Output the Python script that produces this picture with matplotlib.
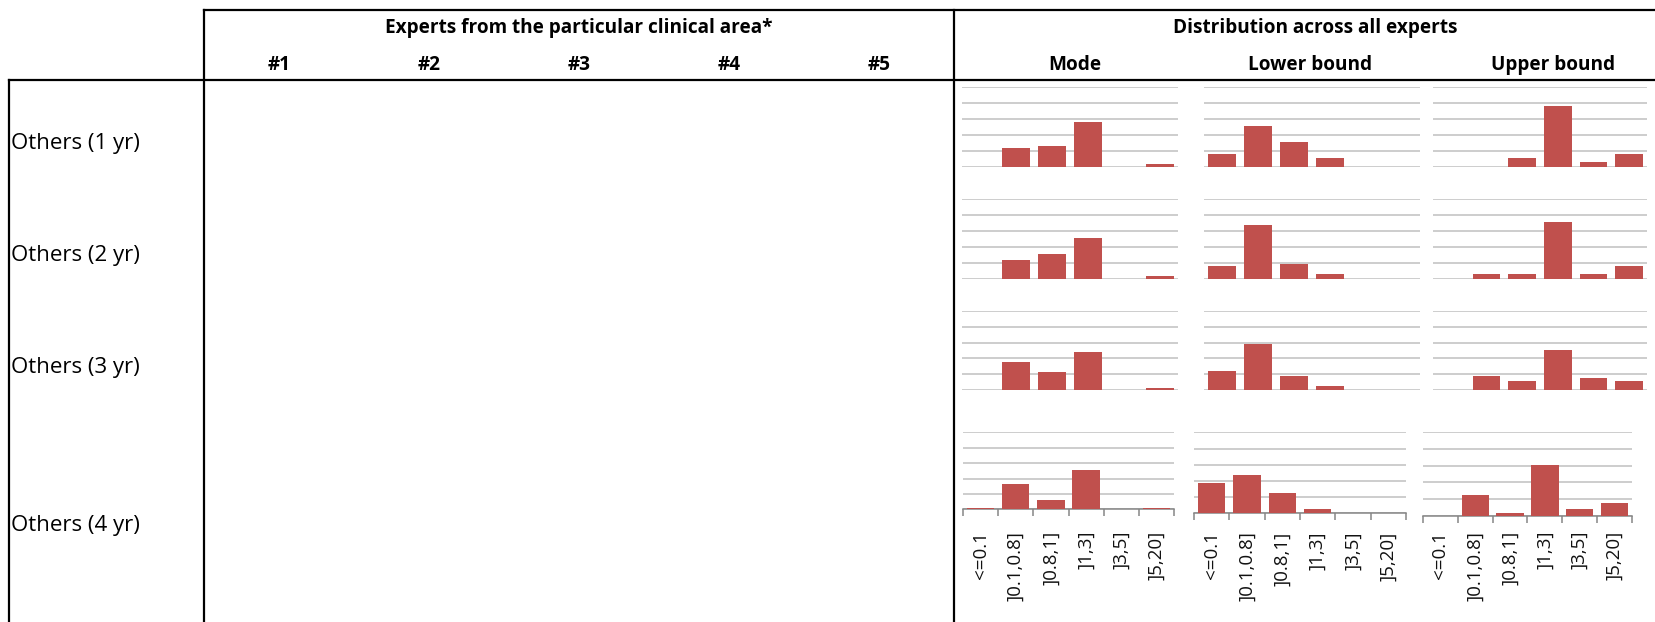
import matplotlib
matplotlib.use('Agg')
import matplotlib.pyplot as plt
from matplotlib.lines import Line2D
from matplotlib.ticker import FixedLocator

# ---------------- data ----------------
categories = ['<=0.1', ']0.1,0.8]', ']0.8,1]', ']1,3]', ']3,5]', ']5,20]']
row_labels = ['Others (1 yr)', 'Others (2 yr)', 'Others (3 yr)', 'Others (4 yr)']
expert_cols = ['#1', '#2', '#3', '#4', '#5']
dist_cols = ['Mode', 'Lower bound', 'Upper bound']
left_header = 'Experts from the particular clinical area*'
right_header = 'Distribution across all experts'

mode_vals = [
    [0.000, 0.117, 0.130, 0.280, 0.000, 0.020],
    [0.000, 0.117, 0.155, 0.255, 0.000, 0.017],
    [0.000, 0.180, 0.117, 0.240, 0.000, 0.017],
    [0.011, 0.167, 0.063, 0.258, 0.000, 0.011],
]
lower_vals = [
    [0.080, 0.255, 0.155, 0.055, 0.000, 0.000],
    [0.080, 0.340, 0.090, 0.030, 0.000, 0.000],
    [0.120, 0.290, 0.090, 0.030, 0.000, 0.000],
    [0.185, 0.235, 0.125, 0.027, 0.000, 0.000],
]
upper_vals = [
    [0.000, 0.000, 0.055, 0.380, 0.030, 0.080],
    [0.000, 0.030, 0.030, 0.355, 0.030, 0.080],
    [0.000, 0.090, 0.058, 0.255, 0.080, 0.058],
    [0.000, 0.122, 0.016, 0.304, 0.040, 0.076],
]
grid_ticks = [0.0, 0.1, 0.2, 0.3, 0.4, 0.5]

# ---------------- layout ----------------
W, H = 1656, 622
fig = plt.figure(figsize=(W / 100, H / 100), dpi=100)
FONT = ['Open Sans', 'DejaVu Sans']
plt.rcParams['font.family'] = FONT

def fx(px):
    return px / W

def fy(py):
    return 1 - py / H

BAR = '#c0504d'
GRID = '#c0c0c0'
AX = '#868686'

# panel geometry: (x0, x1, ytop, ybase) in pixels
row_y = [(87, 167), (199, 278.7), (310.7, 390.3)]
col_x = [(962, 1178), (1204, 1420), (1433, 1647)]
row4 = [(963, 1174, 432.3, 509.3), (1194, 1406, 432.3, 513.3), (1423, 1632, 432.3, 515.7)]
row4_pad = [15.5, 13.0, 11.0]

all_vals = [mode_vals, lower_vals, upper_vals]
xs = list(range(len(categories)))

for r in range(4):
    for c in range(3):
        if r < 3:
            x0, x1 = col_x[c]
            yt, yb = row_y[r]
        else:
            x0, x1, yt, yb = row4[c]
        ax = fig.add_axes([fx(x0), fy(yb), fx(x1) - fx(x0), fy(yt) - fy(yb)])
        ax.bar(xs, all_vals[c][r], width=0.78, color=BAR, edgecolor='none', zorder=3)
        ax.set_xlim(-0.5, len(categories) - 0.5)
        ax.set_ylim(0, 0.5)
        ax.set_yticks(grid_ticks)
        ax.yaxis.grid(True, color=GRID, lw=1.1)
        ax.set_axisbelow(True)
        ax.tick_params(axis='y', left=False, labelleft=False)
        for s in ['top', 'right', 'left']:
            ax.spines[s].set_visible(False)
        if r < 3:
            ax.spines['bottom'].set_visible(False)
            ax.tick_params(axis='x', bottom=False, labelbottom=False)
        else:
            ax.spines['bottom'].set_color(AX)
            ax.spines['bottom'].set_linewidth(1.1)
            ax.set_xticks(xs)
            ax.set_xticklabels(categories, rotation=90, fontsize=13.5, color='#111111')
            ax.tick_params(axis='x', which='major', length=0, pad=row4_pad[c])
            ax.xaxis.set_minor_locator(FixedLocator([i - 0.5 for i in range(len(categories) + 1)]))
            ax.tick_params(axis='x', which='minor', length=5, width=1.1, color=AX, direction='out')

# ---------------- table lines ----------------
def hline(y, xa, xb):
    fig.add_artist(Line2D([fx(xa), fx(xb)], [fy(y), fy(y)], color='black', lw=1.6,
                          transform=fig.transFigure, clip_on=False))

def vline(x, ya, yb):
    fig.add_artist(Line2D([fx(x), fx(x)], [fy(ya), fy(yb)], color='black', lw=1.6,
                          transform=fig.transFigure, clip_on=False))

hline(10, 204, W)
hline(80, 9, W)
vline(9, 80, H)
vline(204, 10, H)
vline(954, 10, H)

# ---------------- texts ----------------
HS = 13.7
fig.text(fx(579), fy(28), left_header, ha='center', va='center', fontsize=HS, fontweight='bold')
fig.text(fx(1315), fy(28), right_header, ha='center', va='center', fontsize=HS, fontweight='bold')
for i, t in enumerate(expert_cols):
    fig.text(fx(279 + 150 * i), fy(65), t, ha='center', va='center', fontsize=HS, fontweight='bold')
for xp, t in zip([1075, 1310, 1553], dist_cols):
    fig.text(fx(xp), fy(65), t, ha='center', va='center', fontsize=HS, fontweight='bold')
for yp, t in zip([143, 256, 367, 525], row_labels):
    fig.text(fx(11), fy(yp), t, ha='left', va='center', fontsize=16)

fig.savefig('out.png', dpi=100)
